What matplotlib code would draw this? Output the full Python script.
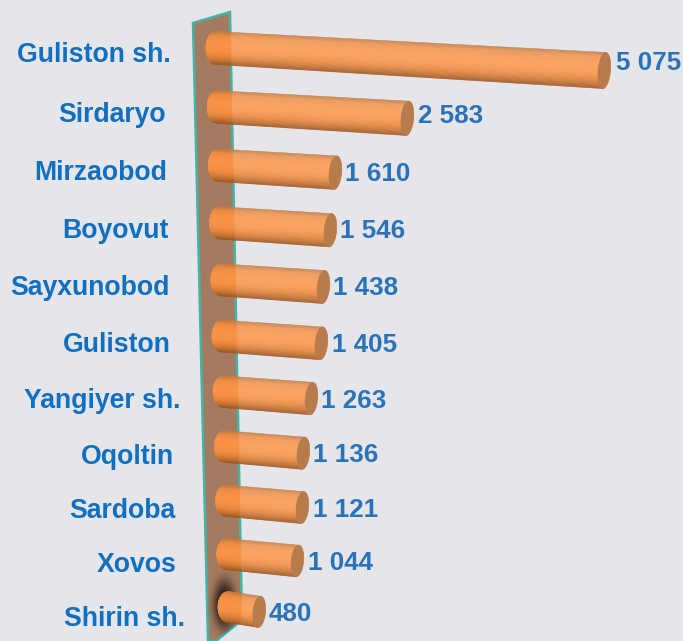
import matplotlib
matplotlib.use('Agg')
import matplotlib.pyplot as plt
import numpy as np
from matplotlib.collections import PolyCollection
from matplotlib.colors import LinearSegmentedColormap, to_rgb
from matplotlib.patches import Polygon

categories = ['Guliston sh.', 'Sirdaryo', 'Mirzaobod', 'Boyovut', 'Sayxunobod', 'Guliston',
              'Yangiyer sh.', 'Oqoltin', 'Sardoba', 'Xovos', 'Shirin sh.']
values = [5075, 2583, 1610, 1546, 1438, 1405, 1263, 1136, 1121, 1044, 480]

# layout, in pixels of the 683x641 picture
label_right = [171, 166, 167, 169, 170, 171, 180, 174, 175, 177, 185]
label_y = [55, 115, 173, 231, 288, 345, 401, 457, 511, 565, 619]
value_y = [63, 116, 174, 231, 288, 345, 401, 455, 510, 563, 614]
value_x_gap = [12, 11, 10, 10, 10, 11, 10, 10, 11, 11, 9.5]
x_zero = [210, 206.7, 210.3, 210.3, 211.7, 212.2, 213.3, 215.1, 215.3, 216.3, 222]
plate = [(193, 23), (230, 12), (242, 620), (216, 641), (208, 641)]

BG = '#e6e6ea'
BLUE = '#2a73b8'
LABEL_BLUE = '#0f6fc0'
PX_PER_UNIT = 0.0777


def row_geometry(i, value):
    """Left end and cap centre of the tilted cylinder for row i."""
    x_left = 216 + 1.2 * i
    y_left = 48 + 59.34 * i - 0.344 * i ** 2
    x_cap = x_zero[i] + PX_PER_UNIT * value
    y_cap = y_left + 0.058 * (x_cap - x_left) + 0.3 * i
    return x_left, y_left, x_cap, y_cap


def shade(stops, n):
    cmap = LinearSegmentedColormap.from_list('cyl', stops)
    return cmap(np.linspace(0, 1, n))


def cylinder_strips(x_left, y_left, x_cap, y_cap, n=40):
    """Thin quads across the cylinder, top edge to bottom edge."""
    r_left = 16.5 - 0.1 * (y_left - 48) / 55.9
    r_cap = r_left + 0.004 * (x_cap - x_left)
    ts = np.linspace(-1, 1, n + 1)
    strips = []
    for t0, t1 in zip(ts[:-1], ts[1:]):
        quad = []
        for t in (t0, t1):
            quad.append((x_left - 10 * np.sqrt(1 - t ** 2), y_left + t * r_left))
        for t in (t1, t0):
            quad.append((x_cap - 0.08 * t * r_cap, y_cap + t * r_cap))
        strips.append(quad)
    return strips, r_cap


def cap_outline(x_cap, y_cap, r_cap):
    a = np.linspace(0, 2 * np.pi, 80)
    t = np.sin(a)
    return np.column_stack([x_cap + 6.2 * np.cos(a) - 0.08 * t * r_cap, y_cap + t * r_cap])


fig, ax = plt.subplots(figsize=(6.83, 6.41), dpi=100)
fig.patch.set_facecolor(BG)
ax.set_position([0, 0, 1, 1])
ax.axis('off')

plate_patch = Polygon(plate, closed=True, facecolor='#a47b60', edgecolor='#45b3a6', linewidth=1.8, zorder=1)
ax.add_patch(plate_patch)

# dark smudge on the plate behind the last bar
yy, xx = np.mgrid[570:641, 205:245]
blob = np.exp(-(((xx - 224) / 11.0) ** 2 + ((yy - 604) / 24.0) ** 2) ** 1.5)
smudge = np.zeros(blob.shape + (4,))
smudge[..., :3] = to_rgb('#1c1410')
smudge[..., 3] = np.clip(blob, 0, 1) * 0.95
im = ax.imshow(smudge, extent=(205, 245, 641, 570), aspect='auto', zorder=1.5, interpolation='bilinear')
im.set_clip_path(Polygon(plate, closed=True, transform=ax.transData))

plain = shade(['#c98a58', '#ee9c60', '#f7a05e', '#fba25f', '#fba25f', '#f9a05c', '#f29856',
               '#e48d4c', '#cc7d3e', '#a9683a'], 40)
on_plate = shade(['#c67a3c', '#ec8a42', '#f59046', '#fa9347', '#fa9347', '#f89146', '#f08c42',
                  '#e0823a', '#c67230', '#9c5c2a'], 40)

for i, value in enumerate(values):
    x_left, y_left, x_cap, y_cap = row_geometry(i, value)
    strips, r_cap = cylinder_strips(x_left, y_left, x_cap, y_cap)
    ax.add_collection(PolyCollection(strips, facecolors=plain, edgecolors=plain, linewidths=0.4, zorder=2))
    # the part in front of the plate reads more saturated
    front = PolyCollection(strips, facecolors=on_plate, edgecolors=on_plate, linewidths=0.4, zorder=2.1)
    ax.add_collection(front)
    front.set_clip_path(Polygon(plate, closed=True, transform=ax.transData))
    ax.add_patch(Polygon(cap_outline(x_cap, y_cap, r_cap), closed=True, facecolor='#b87b4c',
                         edgecolor='#b87b4c', linewidth=0.5, zorder=3))

    ax.text(label_right[i], label_y[i], categories[i], ha='right', va='center', color=LABEL_BLUE,
            fontsize=19.2, fontweight='bold', family='Liberation Sans')
    ax.text(x_cap + value_x_gap[i], value_y[i], f'{value:,}'.replace(',', ' '), ha='left', va='center',
            color=BLUE, fontsize=18.7, fontweight='bold', family='Liberation Sans')

ax.set_xlim(0, 683)
ax.set_ylim(641, 0)

fig.savefig('out.png', dpi=100, facecolor=BG)
